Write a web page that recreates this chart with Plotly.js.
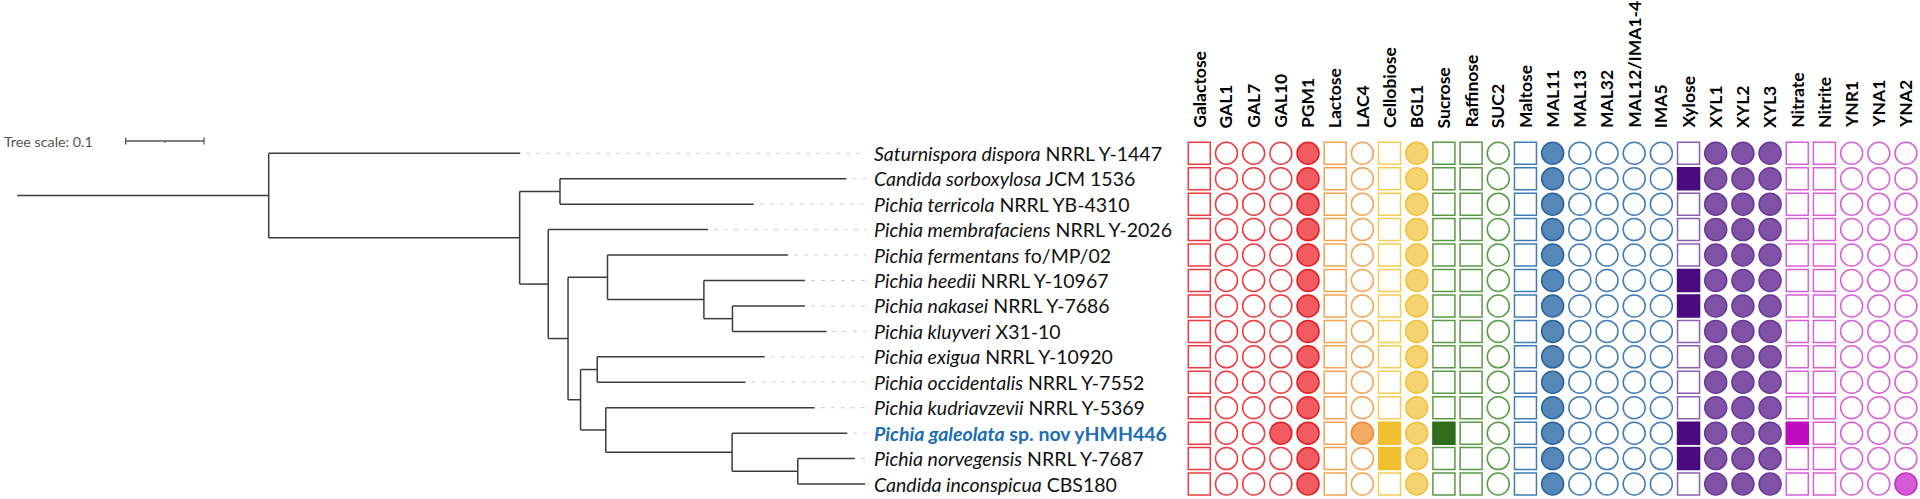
<!DOCTYPE html>
<html><head><meta charset="utf-8">
<script src="https://cdn.plot.ly/plotly-3.0.1.min.js"></script>
<style>html,body{margin:0;padding:0;background:#fff}#chart{width:1920px;height:499px}</style>
</head><body><div id="chart"></div>
<script>
// ---------------- DATA ----------------
const speciesNames = [
  "Saturnispora dispora", "Candida sorboxylosa", "Pichia terricola", "Pichia membrafaciens",
  "Pichia fermentans", "Pichia heedii", "Pichia nakasei", "Pichia kluyveri",
  "Pichia exigua", "Pichia occidentalis", "Pichia kudriavzevii", "Pichia galeolata",
  "Pichia norvegensis", "Candida inconspicua"
];
const strainNames = [
  "NRRL Y-1447", "JCM 1536", "NRRL YB-4310", "NRRL Y-2026",
  "fo/MP/02", "NRRL Y-10967", "NRRL Y-7686", "X31-10",
  "NRRL Y-10920", "NRRL Y-7552", "NRRL Y-5369", "sp. nov yHMH446",
  "NRRL Y-7687", "CBS180"
];
const highlightedSpecies = 11;
// tree (tips numbered by species index), branch lengths in substitutions/site
const treeNewick = "(0:0.3213,((1:0.3658,2:0.2473):0.0515,(3:0.2040,((4:0.2304,(5:0.1290,(6:0.0925,7:0.1203):0.0365):0.1231):0.0504,((8:0.2138,9:0.1893):0.0213,(10:0.2668,(11:0.1471,(12:0.0729,13:0.0861):0.0839):0.1613):0.0322):0.0160):0.0253):0.0365):0.3205):0.3212;";
const treeScale = 0.1;

const traitNames = ["Galactose","GAL1","GAL7","GAL10","PGM1","Lactose","LAC4","Cellobiose","BGL1",
  "Sucrose","Raffinose","SUC2","Maltose","MAL11","MAL13","MAL32","MAL12/IMA1-4","IMA5",
  "Xylose","XYL1","XYL2","XYL3","Nitrate","Nitrite","YNR1","YNA1","YNA2"];
const traitShapes = ["square","circle","circle","circle","circle","square","circle","square","circle",
  "square","square","circle","square","circle","circle","circle","circle","circle",
  "square","circle","circle","circle","square","square","circle","circle","circle"];

// presence (1) / absence (0), one value per species in order above
const galactose  = [0,0,0,0,0,0,0,0,0,0,0,0,0,0];
const gal1       = [0,0,0,0,0,0,0,0,0,0,0,0,0,0];
const gal7       = [0,0,0,0,0,0,0,0,0,0,0,0,0,0];
const gal10      = [0,0,0,0,0,0,0,0,0,0,0,1,0,0];
const pgm1       = [1,1,1,1,1,1,1,1,1,1,1,1,1,1];
const lactose    = [0,0,0,0,0,0,0,0,0,0,0,0,0,0];
const lac4       = [0,0,0,0,0,0,0,0,0,0,0,1,0,0];
const cellobiose = [0,0,0,0,0,0,0,0,0,0,0,1,1,0];
const bgl1       = [1,1,1,1,1,1,1,1,1,1,1,1,1,1];
const sucrose    = [0,0,0,0,0,0,0,0,0,0,0,1,0,0];
const raffinose  = [0,0,0,0,0,0,0,0,0,0,0,0,0,0];
const suc2       = [0,0,0,0,0,0,0,0,0,0,0,0,0,0];
const maltose    = [0,0,0,0,0,0,0,0,0,0,0,0,0,0];
const mal11      = [1,1,1,1,1,1,1,1,1,1,1,1,1,1];
const mal13      = [0,0,0,0,0,0,0,0,0,0,0,0,0,0];
const mal32      = [0,0,0,0,0,0,0,0,0,0,0,0,0,0];
const mal12ima   = [0,0,0,0,0,0,0,0,0,0,0,0,0,0];
const ima5       = [0,0,0,0,0,0,0,0,0,0,0,0,0,0];
const xylose     = [0,1,0,0,0,1,1,0,0,0,0,1,1,0];
const xyl1       = [1,1,1,1,1,1,1,1,1,1,1,1,1,1];
const xyl2       = [1,1,1,1,1,1,1,1,1,1,1,1,1,1];
const xyl3       = [1,1,1,1,1,1,1,1,1,1,1,1,1,1];
const nitrate    = [0,0,0,0,0,0,0,0,0,0,0,1,0,0];
const nitrite    = [0,0,0,0,0,0,0,0,0,0,0,0,0,0];
const ynr1       = [0,0,0,0,0,0,0,0,0,0,0,0,0,0];
const yna1       = [0,0,0,0,0,0,0,0,0,0,0,0,0,0];
const yna2       = [0,0,0,0,0,0,0,0,0,0,0,0,0,1];
const traitValues = [galactose,gal1,gal7,gal10,pgm1,lactose,lac4,cellobiose,bgl1,
  sucrose,raffinose,suc2,maltose,mal11,mal13,mal32,mal12ima,ima5,
  xylose,xyl1,xyl2,xyl3,nitrate,nitrite,ynr1,yna1,yna2];

// ---------------- STYLE ----------------
const RED = {open:"#ee3a3e", fill:"#f25c60", line:"#e41d23"};
const ORA = {open:"#f5a352", fill:"#f5ab64", line:"#f08a38"};
const YEL = {open:"#f7cc52", fill:"#f5d370", line:"#f0c23a"};
const YELS = {open:"#f7cc52", fill:"#f0c030", line:"#f0c030"};
const GRN = {open:"#5a9a45", fill:"#2e6e1a", line:"#2e6e1a"};
const BLU = {open:"#3f7cb6", fill:"#5588b8", line:"#2a62a0"};
const PURS = {open:"#8a5fb2", fill:"#4a0a80", line:"#4a0a80"};
const PUR = {open:"#8a5fb2", fill:"#8052a6", line:"#6a3898"};
const MAGS = {open:"#d860d8", fill:"#c00cc0", line:"#c00cc0"};
const MAG = {open:"#d860d8", fill:"#d65ad6", line:"#c330c3"};
const traitColors = [RED,RED,RED,RED,RED,ORA,ORA,YELS,YEL,GRN,GRN,GRN,BLU,BLU,BLU,BLU,BLU,BLU,
  PURS,PUR,PUR,PUR,MAGS,MAGS,MAG,MAG,MAG];

const FONT = "Lato, 'Open Sans', sans-serif";
const W = 1920, H = 499;
const pxPerUnit = 783, treeLeftPx = 17.2, treeDomainPx = 870;
const rowTopPx = 153.3, rowStepPx = 25.44;
const colFirstPx = 1199.3, colStepPx = 27.18, matDomainStartPx = 1152;
const labelPx = 872.8, leaderEndPx = 866;

// ---------------- TREE ----------------
function parseNewick(s){
  let i = 0;
  function node(){
    const n = {children:[], name:"", len:0};
    if (s[i] === '(') {
      i++;
      n.children.push(node());
      while (s[i] === ',') { i++; n.children.push(node()); }
      i++;
    }
    let name = '';
    while (i < s.length && !':,);'.includes(s[i])) name += s[i++];
    n.name = name;
    if (s[i] === ':') {
      i++; let num = '';
      while (i < s.length && !',);'.includes(s[i])) num += s[i++];
      n.len = parseFloat(num);
    }
    return n;
  }
  return node();
}
const tree = parseNewick(treeNewick);
const tips = [];
function layoutTree(n, px){
  n.x = px + n.len; n.px = px;
  if (n.children.length === 0) { n.y = parseInt(n.name, 10); tips.push(n); }
  else {
    n.children.forEach(c => layoutTree(c, n.x));
    n.y = (n.children[0].y + n.children[n.children.length-1].y) / 2;
  }
}
layoutTree(tree, 0);
const tx = [], ty = [];
function drawTree(n){
  tx.push(n.px, n.x, null); ty.push(n.y, n.y, null);
  if (n.children.length) {
    tx.push(n.x, n.x, null);
    ty.push(n.children[0].y, n.children[n.children.length-1].y, null);
    n.children.forEach(drawTree);
  }
}
drawTree(tree);

const xr0 = -treeLeftPx / pxPerUnit;
const xr1 = xr0 + treeDomainPx / pxPerUnit;
const leaderEnd = (leaderEndPx - treeLeftPx) / pxPerUnit;
const lx = [], ly = [];
tips.forEach(t => { lx.push(t.x + 6/pxPerUnit, leaderEnd, null); ly.push(t.y, t.y, null); });

const traces = [];
traces.push({x: lx, y: ly, mode:"lines", line:{color:"#cfcfcf", width:1, dash:"4px,6px"}, hoverinfo:"skip", xaxis:"x", yaxis:"y"});
traces.push({x: tx, y: ty, mode:"lines", line:{color:"#3c3c3c", width:1.5}, hoverinfo:"skip", xaxis:"x", yaxis:"y"});

// ---------------- MATRIX ----------------
traitNames.forEach((name, j) => {
  const vals = traitValues[j], c = traitColors[j];
  traces.push({
    x: vals.map(() => j), y: vals.map((v, i) => i),
    mode: "markers", xaxis: "x2", yaxis: "y", hoverinfo: "skip",
    marker: {
      symbol: traitShapes[j], size: 22,
      color: vals.map(v => v ? c.fill : "#ffffff"),
      line: {width: 1.5, color: vals.map(v => v ? c.line : c.open)}
    }
  });
});

// ---------------- AXES ----------------
const yTop = -rowTopPx / rowStepPx;
const yBot = (H - rowTopPx) / rowStepPx;
const x2r0 = (matDomainStartPx - colFirstPx) / colStepPx;
const x2r1 = (W - colFirstPx) / colStepPx;
const hidden = {showgrid:false, zeroline:false, showticklabels:false, ticks:"", showline:false, fixedrange:true};

const annotations = [];
speciesNames.forEach((sp, i) => {
  const hl = i === highlightedSpecies;
  const txt = `<i>${sp}</i> ${strainNames[i]}`;
  annotations.push({xref:"paper", yref:"y", x: labelPx / W, y: i, xanchor:"left", yanchor:"middle",
    text: txt, showarrow:false, borderpad:0,
    font:{family:FONT, size:19.5, color: hl ? "#1c6db3" : "#111111", weight: hl ? 700 : 400}});
});
traitNames.forEach((name, j) => {
  annotations.push({xref:"x2", yref:"paper", x: j, y: 1 - 129/H, xanchor:"center", yanchor:"bottom",
    textangle:-90, text:name, showarrow:false, borderpad:0,
    font:{family:FONT, size:17.5, color:"#000000", weight:700}});
});
annotations.push({xref:"paper", yref:"paper", x: 3/W, y: 1 - 141.5/H, xanchor:"left", yanchor:"middle",
  text:"Tree scale: " + treeScale, showarrow:false, borderpad:0, font:{family:FONT, size:14.3, color:"#555555"}});

// scale bar
const sbx0 = (125.7 - treeLeftPx) / pxPerUnit;
const sby = (141 - rowTopPx) / rowStepPx;
const tick = 3.5 / rowStepPx;
const sl = {color:"#555555", width:1.3};
const shapes = [
  {type:"line", xref:"x", yref:"y", x0:sbx0, x1:sbx0+treeScale, y0:sby, y1:sby, line:sl},
  {type:"line", xref:"x", yref:"y", x0:sbx0, x1:sbx0, y0:sby-tick, y1:sby+tick, line:sl},
  {type:"line", xref:"x", yref:"y", x0:sbx0+treeScale, x1:sbx0+treeScale, y0:sby-tick, y1:sby+tick, line:sl},
  {type:"line", xref:"x", yref:"y", x0:sbx0+treeScale/2, x1:sbx0+treeScale/2, y0:sby, y1:sby+2/rowStepPx, line:{color:"#555555", width:1}}
];

const layout = {
  width: W, height: H, autosize:false,
  margin:{l:0, r:0, t:0, b:0, pad:0},
  paper_bgcolor:"#ffffff", plot_bgcolor:"rgba(0,0,0,0)",
  showlegend:false,
  xaxis: Object.assign({domain:[0, treeDomainPx/W], range:[xr0, xr1]}, hidden),
  xaxis2: Object.assign({domain:[matDomainStartPx/W, 1], range:[x2r0, x2r1], anchor:"y"}, hidden),
  yaxis: Object.assign({domain:[0,1], range:[yBot, yTop]}, hidden),
  annotations, shapes
};
Plotly.newPlot("chart", traces, layout, {staticPlot:true, displayModeBar:false});
</script></body></html>
